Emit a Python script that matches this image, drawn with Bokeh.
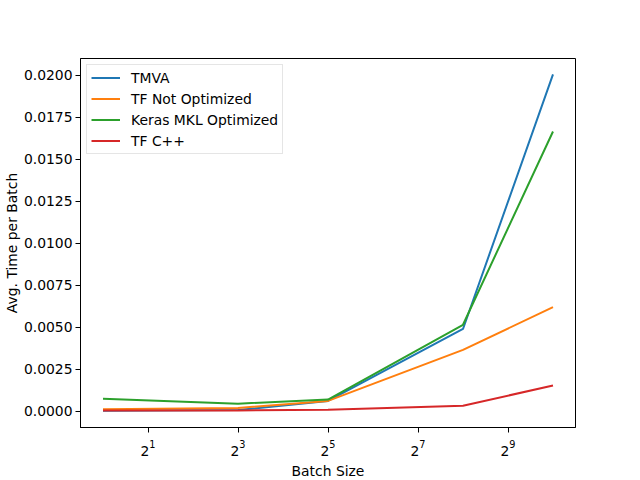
from bokeh.plotting import figure
from bokeh.models import (Range1d, FixedTicker, LogTicker, LogTickFormatter,
                          NumeralTickFormatter, Legend, LegendItem)
from bokeh.embed import file_html
from bokeh.resources import INLINE

batch_sizes = [1, 8, 32, 256, 1024]
tmva = [0.00003, 0.00008, 0.00062, 0.0049, 0.02005]
tf_not_opt = [0.00012, 0.0002, 0.00062, 0.00366, 0.0062]
keras_mkl = [0.00075, 0.00046, 0.0007, 0.00515, 0.01665]
tf_cpp = [0.00005, 0.00005, 0.0001, 0.00033, 0.00154]

series_names = ["TMVA", "TF Not Optimized", "Keras MKL Optimized", "TF C++"]
series_values = [tmva, tf_not_opt, keras_mkl, tf_cpp]
colors = ["#1f77b4", "#ff7f0e", "#2ca02c", "#d62728"]

x_ticks = [2, 8, 32, 128, 512]
y_ticks = [0.0, 0.0025, 0.005, 0.0075, 0.01, 0.0125, 0.015, 0.0175, 0.02]

FONT = "DejaVu Sans"
FS = "13.9px"

p = figure(x_axis_type="log", output_backend="svg", toolbar_location=None,
           frame_width=495, frame_height=369,
           min_border_left=66, min_border_top=58, min_border_right=48,
           min_border_bottom=45,
           x_range=Range1d(2 ** -0.5, 2 ** 10.5),
           y_range=Range1d(-0.00096, 0.02099))

p.background_fill_color = "white"
p.border_fill_color = "white"
p.xgrid.visible = False
p.ygrid.visible = False
p.outline_line_color = "black"
p.outline_line_alpha = 1.0
p.outline_line_width = 1

p.xaxis.ticker = FixedTicker(ticks=x_ticks)
p.xaxis.formatter = LogTickFormatter(ticker=LogTicker(base=2))
p.yaxis.ticker = FixedTicker(ticks=y_ticks)
p.yaxis.formatter = NumeralTickFormatter(format="0.0000")

for ax in (p.xaxis, p.yaxis):
    ax.axis_line_color = "black"
    ax.major_tick_line_color = "black"
    ax.major_tick_in = 0
    ax.major_tick_out = 5
    ax.minor_tick_line_color = None
    ax.major_label_text_font = FONT
    ax.major_label_text_font_size = FS
    ax.major_label_text_color = "black"
    ax.axis_label_text_font = FONT
    ax.axis_label_text_font_size = FS
    ax.axis_label_text_font_style = "normal"
    ax.axis_label_text_color = "black"

p.xaxis.axis_label = "Batch Size"
p.yaxis.axis_label = "Avg. Time per Batch"
p.xaxis.axis_label_standoff = 4
p.xaxis.major_label_standoff = 7
p.yaxis.axis_label_standoff = 1
p.yaxis.major_label_standoff = 3

items = []
for name, vals, c in zip(series_names, series_values, colors):
    r = p.line(batch_sizes, vals, line_color=c, line_width=2)
    items.append(LegendItem(label=name, renderers=[r]))

legend = Legend(items=items, location="top_left")
legend.margin = 6
legend.padding = 4
legend.spacing = 4
legend.label_height = 17
legend.glyph_height = 17
legend.glyph_width = 29
legend.label_standoff = 11
legend.label_text_font = FONT
legend.label_text_font_size = FS
legend.label_text_color = "black"
legend.border_line_color = "#cccccc"
legend.border_line_width = 1
legend.background_fill_alpha = 0.8
p.add_layout(legend)

open("out.html", "w").write(file_html(p, INLINE))
